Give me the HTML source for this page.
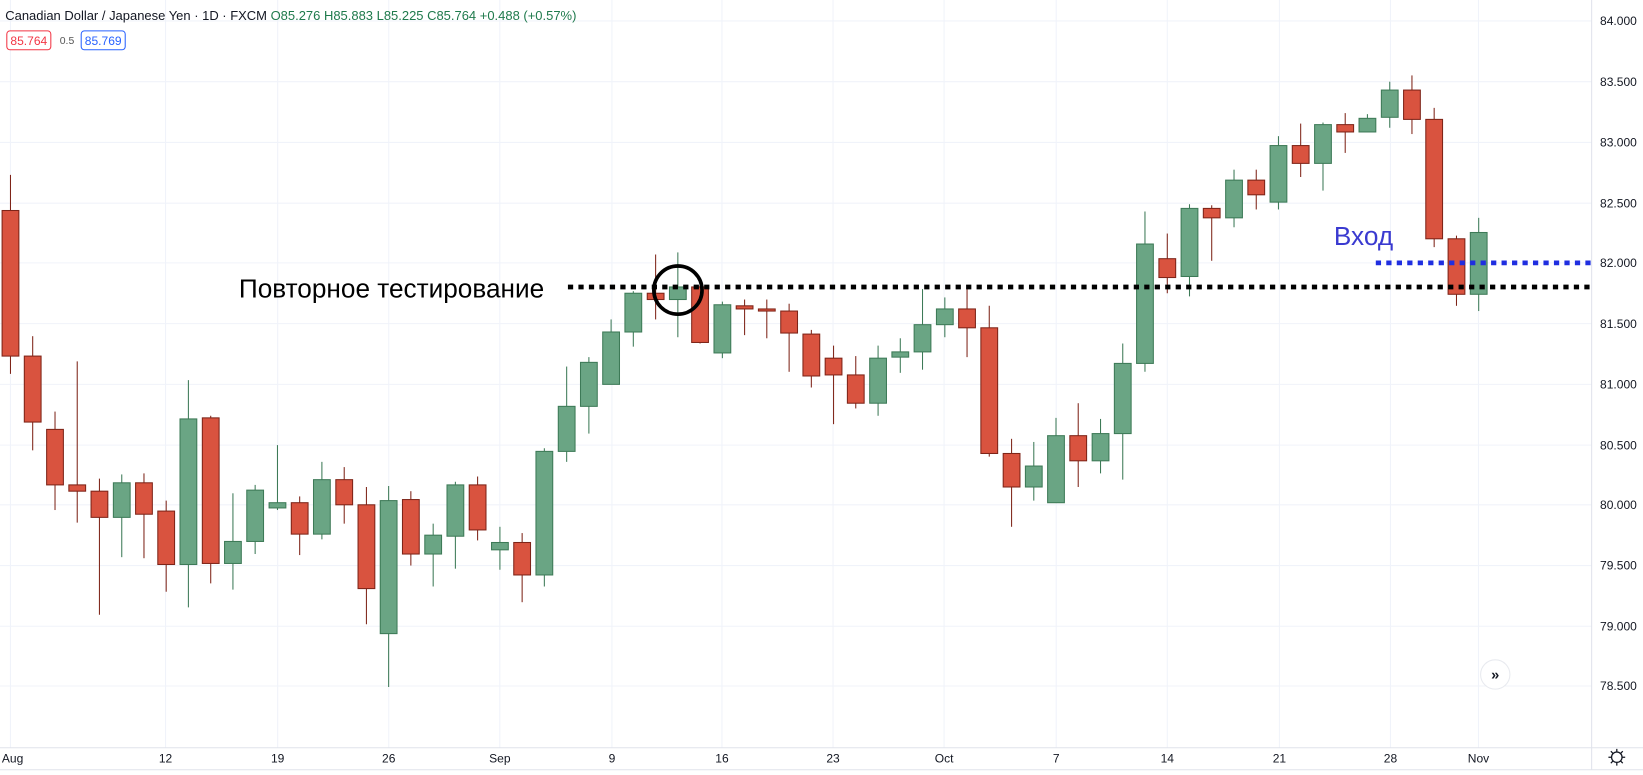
<!DOCTYPE html>
<html><head><meta charset="utf-8"><style>
html,body{margin:0;padding:0;background:#fff;overflow:hidden}
svg{display:block}
text{font-family:"Liberation Sans","DejaVu Sans",sans-serif}
</style></head><body>
<svg width="1643" height="775" viewBox="0 0 1568 740" preserveAspectRatio="none" xmlns="http://www.w3.org/2000/svg">
<rect width="1568" height="740" fill="#fff"/>
<g stroke="#f0f3fa" stroke-width="1">
<line x1="0" y1="20" x2="1519" y2="20"/><line x1="0" y1="78" x2="1519" y2="78"/><line x1="0" y1="136" x2="1519" y2="136"/><line x1="0" y1="194" x2="1519" y2="194"/><line x1="0" y1="251" x2="1519" y2="251"/><line x1="0" y1="309" x2="1519" y2="309"/><line x1="0" y1="367" x2="1519" y2="367"/><line x1="0" y1="425" x2="1519" y2="425"/><line x1="0" y1="482" x2="1519" y2="482"/><line x1="0" y1="540" x2="1519" y2="540"/><line x1="0" y1="598" x2="1519" y2="598"/><line x1="0" y1="655" x2="1519" y2="655"/>
<line x1="10" y1="0" x2="10" y2="714"/><line x1="158" y1="0" x2="158" y2="714"/><line x1="265" y1="0" x2="265" y2="714"/><line x1="371" y1="0" x2="371" y2="714"/><line x1="477" y1="0" x2="477" y2="714"/><line x1="584" y1="0" x2="584" y2="714"/><line x1="689" y1="0" x2="689" y2="714"/><line x1="795" y1="0" x2="795" y2="714"/><line x1="901" y1="0" x2="901" y2="714"/><line x1="1008" y1="0" x2="1008" y2="714"/><line x1="1114" y1="0" x2="1114" y2="714"/><line x1="1221" y1="0" x2="1221" y2="714"/><line x1="1327" y1="0" x2="1327" y2="714"/><line x1="1411" y1="0" x2="1411" y2="714"/>
</g>
<!-- red candles -->
<g fill="#d9533f" stroke="#7e2418" stroke-width="1">
<path d="M10 167V357"/><rect x="2" y="201" width="16" height="139"/>
<path d="M31.2 321V430"/><rect x="23.2" y="340" width="16" height="63"/>
<path d="M52.5 393V487"/><rect x="44.5" y="410" width="16" height="53"/>
<path d="M73.7 345V499"/><rect x="65.7" y="463" width="16" height="6"/>
<path d="M94.9 457V587"/><rect x="86.9" y="469" width="16" height="25"/>
<path d="M137.4 452V533"/><rect x="129.4" y="461" width="16" height="30"/>
<path d="M158.6 478V565"/><rect x="150.6" y="488" width="16" height="51"/>
<path d="M201.1 397V557"/><rect x="193.1" y="399" width="16" height="139"/>
<path d="M286 474V530"/><rect x="278" y="480" width="16" height="30"/>
<path d="M328.5 446V500"/><rect x="320.5" y="458" width="16" height="24"/>
<path d="M349.7 465V596"/><rect x="341.7" y="482" width="16" height="80"/>
<path d="M392.1 469V540"/><rect x="384.1" y="477" width="16" height="52"/>
<path d="M455.8 455V516"/><rect x="447.8" y="463" width="16" height="43"/>
<path d="M498.3 509V575"/><rect x="490.3" y="518" width="16" height="31"/>
<path d="M625.7 243V305"/><rect x="617.7" y="280" width="16" height="6"/>
<path d="M668.1 270V328"/><rect x="660.1" y="274" width="16" height="53"/>
<path d="M710.6 286V320"/><rect x="702.6" y="292" width="16" height="3"/>
<path d="M731.8 286V323"/><rect x="723.8" y="295" width="16" height="2"/>
<path d="M753.1 290V355"/><rect x="745.1" y="297" width="16" height="21"/>
<path d="M774.3 315V370"/><rect x="766.3" y="319" width="16" height="40"/>
<path d="M795.5 330V405"/><rect x="787.5" y="342" width="16" height="16"/>
<path d="M816.7 340V390"/><rect x="808.7" y="358" width="16" height="27"/>
<path d="M922.9 276V341"/><rect x="914.9" y="295" width="16" height="18"/>
<path d="M944.1 292V436"/><rect x="936.1" y="313" width="16" height="120"/>
<path d="M965.4 419V503"/><rect x="957.4" y="433" width="16" height="32"/>
<path d="M1029 385V465"/><rect x="1021" y="416" width="16" height="24"/>
<path d="M1114 223V280"/><rect x="1106" y="247" width="16" height="18"/>
<path d="M1156.4 196V249"/><rect x="1148.4" y="199" width="16" height="9"/>
<path d="M1198.9 162V200"/><rect x="1190.9" y="172" width="16" height="14"/>
<path d="M1241.3 118V169"/><rect x="1233.3" y="139" width="16" height="17"/>
<path d="M1283.8 108V146"/><rect x="1275.8" y="119" width="16" height="7"/>
<path d="M1347.5 72V128"/><rect x="1339.5" y="86" width="16" height="28"/>
<path d="M1368.7 103V236"/><rect x="1360.7" y="114" width="16" height="114"/>
<path d="M1390 225V292"/><rect x="1382" y="228" width="16" height="53"/>
</g>
<!-- green candles -->
<g fill="#6aa584" stroke="#3d7a57" stroke-width="1">
<path d="M116.2 453V532"/><rect x="108.2" y="461" width="16" height="33"/>
<path d="M179.8 363V580"/><rect x="171.8" y="400" width="16" height="139"/>
<path d="M222.3 471V563"/><rect x="214.3" y="517" width="16" height="21"/>
<path d="M243.5 463V529"/><rect x="235.5" y="468" width="16" height="49"/>
<path d="M264.8 425V487"/><rect x="256.8" y="480" width="16" height="5"/>
<path d="M307.2 441V515"/><rect x="299.2" y="458" width="16" height="52"/>
<path d="M370.9 464V656"/><rect x="362.9" y="478" width="16" height="127"/>
<path d="M413.4 500V560"/><rect x="405.4" y="511" width="16" height="18"/>
<path d="M434.6 460V543"/><rect x="426.6" y="463" width="16" height="49"/>
<path d="M477.1 503V544"/><rect x="469.1" y="518" width="16" height="7"/>
<path d="M519.5 428V560"/><rect x="511.5" y="431" width="16" height="118"/>
<path d="M540.8 350V441"/><rect x="532.8" y="388" width="16" height="43"/>
<path d="M562 341V414"/><rect x="554" y="346" width="16" height="42"/>
<path d="M583.2 305V367"/><rect x="575.2" y="317" width="16" height="50"/>
<path d="M604.4 278V331"/><rect x="596.4" y="280" width="16" height="37"/>
<path d="M646.9 241V322"/><rect x="638.9" y="274" width="16" height="12"/>
<path d="M689.4 288V342"/><rect x="681.4" y="291" width="16" height="46"/>
<path d="M838 330V397"/><rect x="830" y="342" width="16" height="43"/>
<path d="M859.2 323V356"/><rect x="851.2" y="336" width="16" height="5"/>
<path d="M880.4 276V353"/><rect x="872.4" y="310" width="16" height="26"/>
<path d="M901.7 284V322"/><rect x="893.7" y="295" width="16" height="15"/>
<path d="M986.6 422V478"/><rect x="978.6" y="445" width="16" height="20"/>
<path d="M1007.8 399V480"/><rect x="999.8" y="416" width="16" height="64"/>
<path d="M1050.3 400V452"/><rect x="1042.3" y="414" width="16" height="26"/>
<path d="M1071.5 328V458"/><rect x="1063.5" y="347" width="16" height="67"/>
<path d="M1092.7 202V355"/><rect x="1084.7" y="233" width="16" height="114"/>
<path d="M1135.2 195V283"/><rect x="1127.2" y="199" width="16" height="65"/>
<path d="M1177.7 162V217"/><rect x="1169.7" y="172" width="16" height="36"/>
<path d="M1220.1 130V200"/><rect x="1212.1" y="139" width="16" height="54"/>
<path d="M1262.6 117V182"/><rect x="1254.6" y="119" width="16" height="37"/>
<path d="M1305 109V126"/><rect x="1297" y="113" width="16" height="13"/>
<path d="M1326.3 78V122"/><rect x="1318.3" y="86" width="16" height="26"/>
<path d="M1411.2 208V297"/><rect x="1403.2" y="222" width="16" height="59"/>
</g>
<line x1="1519" y1="0" x2="1519" y2="735" stroke="#e0e3eb"/>
<line x1="0" y1="714" x2="1568" y2="714" stroke="#e0e3eb"/>
<line x1="0" y1="735" x2="1568" y2="735" stroke="#e0e3eb"/>
<g font-size="11.5" fill="#131722">
<text x="1527" y="24">84.000</text><text x="1527" y="82">83.500</text><text x="1527" y="140">83.000</text><text x="1527" y="198">82.500</text><text x="1527" y="255">82.000</text><text x="1527" y="313">81.500</text><text x="1527" y="371">81.000</text><text x="1527" y="429">80.500</text><text x="1527" y="486">80.000</text><text x="1527" y="544">79.500</text><text x="1527" y="602">79.000</text><text x="1527" y="659">78.500</text>
</g>
<g font-size="11.5" fill="#131722" text-anchor="middle">
<text x="12" y="728">Aug</text><text x="158" y="728">12</text><text x="265" y="728">19</text><text x="371" y="728">26</text><text x="477" y="728">Sep</text><text x="584" y="728">9</text><text x="689" y="728">16</text><text x="795" y="728">23</text><text x="901" y="728">Oct</text><text x="1008" y="728">7</text><text x="1114" y="728">14</text><text x="1221" y="728">21</text><text x="1327" y="728">28</text><text x="1411" y="728">Nov</text>
</g>
<g transform="translate(1543,723)" fill="none" stroke="#131722" stroke-width="1.2"><circle r="5"/><path d="M0-8V-5M0 5V8M-8 0H-5M5 0H8M-5.7-5.7L-3.5-3.5M3.5 3.5L5.7 5.7M-5.7 5.7L-3.5 3.5M3.5-3.5L5.7-5.7"/></g>
<circle cx="1427" cy="644" r="14" fill="#fff" stroke="#e8eaef"/>
<text x="1427" y="649" font-size="14" font-weight="bold" text-anchor="middle" fill="#131722">»</text>
<text x="5" y="19" font-size="12.4" fill="#131722">Canadian Dollar / Japanese Yen · 1D · FXCM  <tspan fill="#1f7a4c">O85.276 H85.883 L85.225 C85.764 +0.488 (+0.57%)</tspan></text>
<rect x="6.5" y="29.5" width="42" height="18" rx="3" fill="#fff" stroke="#f23645"/>
<text x="27.5" y="43" font-size="11.5" fill="#f23645" text-anchor="middle">85.764</text>
<text x="57" y="42" font-size="10" fill="#555">0.5</text>
<rect x="77.5" y="29.5" width="42" height="18" rx="3" fill="#fff" stroke="#2962ff"/>
<text x="98.5" y="43" font-size="11.5" fill="#2962ff" text-anchor="middle">85.769</text>
<line x1="542" y1="274" x2="1522" y2="274" stroke="#000" stroke-width="4.5" stroke-dasharray="5 5"/>
<line x1="1313" y1="251" x2="1522" y2="251" stroke="#1f2ee0" stroke-width="4.5" stroke-dasharray="5 5"/>
<text x="228" y="284" font-size="25" fill="#000">Повторное тестирование</text>
<text x="1273" y="234" font-size="25" fill="#3a3ad0">Вход</text>
<circle cx="647" cy="277" r="23" fill="none" stroke="#000" stroke-width="3.5"/>
</svg>
</body></html>
